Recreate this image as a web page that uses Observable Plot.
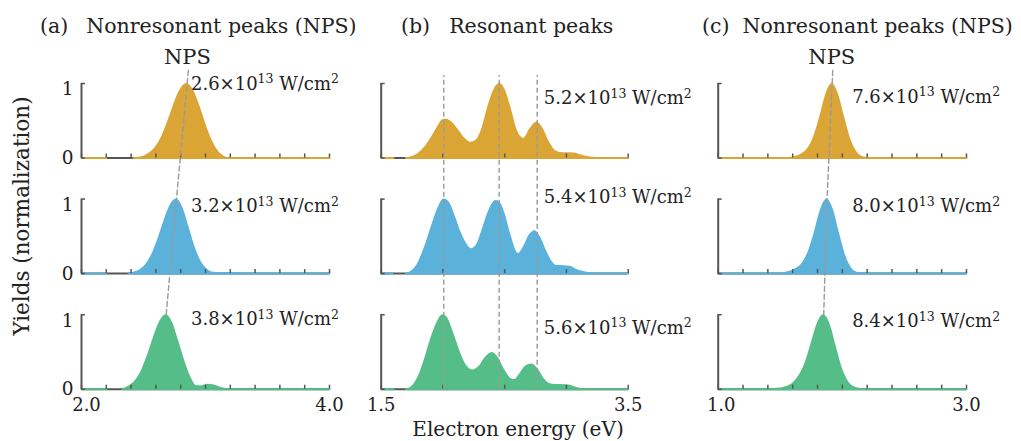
<!DOCTYPE html>
<html><head><meta charset="utf-8">
<script src="https://cdn.jsdelivr.net/npm/d3@7"></script>
<script src="https://cdn.jsdelivr.net/npm/@observablehq/plot@0.6"></script>
<style>
body{margin:0;background:#fff;}
#fig{position:relative;width:1021px;height:441px;overflow:hidden;font-family:"DejaVu Serif",serif;color:#222;}
#fig svg{position:absolute;left:0;top:0;}
.lbl{position:absolute;white-space:pre;line-height:1;font-size:20.5px;}
.lbl span.tag{display:inline-block;}
</style></head><body><div id="fig"></div>
<script>
// ---------------- data ----------------
// (a) Nonresonant peaks, energies 2.0–4.0 eV
const energyA1 = [2.0, 2.2, 2.3, 2.42, 2.45, 2.5, 2.55, 2.6, 2.65, 2.7, 2.75, 2.8, 2.85, 2.9, 2.95, 3.0, 3.05, 3.1, 3.15, 3.2, 4.0];
const yieldA1  = [0, 0, null, 0, 0.008, 0.025, 0.07, 0.155, 0.3, 0.51, 0.745, 0.93, 1, 0.92, 0.72, 0.47, 0.25, 0.10, 0.025, 0, 0];
const energyA2 = [2.0, 2.2, 2.3, 2.38, 2.415, 2.465, 2.515, 2.565, 2.615, 2.665, 2.715, 2.765, 2.815, 2.865, 2.915, 2.965, 3.015, 3.065, 3.12, 3.2, 3.28, 3.35, 4.0];
const yieldA2  = [0, 0, null, 0, 0.014, 0.044, 0.114, 0.249, 0.458, 0.707, 0.917, 1, 0.893, 0.635, 0.36, 0.163, 0.059, 0.017, 0.012, 0.015, 0.008, 0, 0];
const energyA3 = [2.0, 2.2, 2.28, 2.33, 2.383, 2.433, 2.483, 2.533, 2.583, 2.633, 2.683, 2.733, 2.783, 2.833, 2.883, 2.93, 2.97, 3.02, 3.07, 3.12, 3.17, 3.22, 4.0];
const yieldA3  = [0, 0, null, 0, 0.044, 0.114, 0.249, 0.458, 0.707, 0.917, 1, 0.90, 0.65, 0.38, 0.16, 0.045, 0.048, 0.068, 0.055, 0.025, 0.008, 0, 0];
// (b) Resonant peaks, energies 1.5–3.5 eV
const energyB1 = [1.5, 1.6, 1.65, 1.7, 1.75, 1.8, 1.85, 1.9, 1.95, 2.0, 2.03, 2.08, 2.13, 2.18, 2.225, 2.27, 2.32, 2.37, 2.42, 2.46, 2.5, 2.55, 2.6, 2.655, 2.7, 2.76, 2.81, 2.86, 2.91, 2.95, 3.0, 3.06, 3.12, 3.18, 3.25, 3.32, 3.5];
const yieldB1  = [0, 0, null, 0, 0.02, 0.06, 0.14, 0.26, 0.40, 0.515, 0.52, 0.47, 0.37, 0.26, 0.21, 0.24, 0.42, 0.72, 0.94, 1, 0.93, 0.68, 0.38, 0.265, 0.38, 0.48, 0.40, 0.22, 0.10, 0.075, 0.072, 0.068, 0.04, 0.015, 0.005, 0, 0];
const energyB2 = [1.5, 1.59, 1.65, 1.7, 1.75, 1.8, 1.85, 1.9, 1.95, 2.01, 2.05, 2.1, 2.15, 2.2, 2.23, 2.27, 2.32, 2.37, 2.43, 2.46, 2.5, 2.55, 2.61, 2.65, 2.7, 2.745, 2.79, 2.84, 2.89, 2.925, 2.98, 3.03, 3.08, 3.13, 3.2, 3.28, 3.5];
const yieldB2  = [0, 0, null, 0, 0.04, 0.15, 0.35, 0.6, 0.84, 1, 0.96, 0.77, 0.54, 0.38, 0.335, 0.38, 0.6, 0.84, 0.98, 0.96, 0.82, 0.52, 0.27, 0.35, 0.52, 0.576, 0.49, 0.3, 0.15, 0.107, 0.105, 0.1, 0.06, 0.03, 0.01, 0, 0];
const energyB3 = [1.5, 1.6, 1.65, 1.7, 1.75, 1.8, 1.85, 1.9, 1.95, 2.0, 2.04, 2.09, 2.14, 2.19, 2.24, 2.29, 2.34, 2.40, 2.45, 2.5, 2.55, 2.58, 2.62, 2.67, 2.72, 2.77, 2.82, 2.86, 2.89, 2.95, 3.02, 3.07, 3.13, 3.2, 3.3, 3.5];
const yieldB3  = [0, 0, null, 0, 0.04, 0.17, 0.4, 0.67, 0.89, 1, 0.95, 0.74, 0.5, 0.32, 0.258, 0.3, 0.42, 0.493, 0.42, 0.26, 0.145, 0.129, 0.2, 0.31, 0.338, 0.27, 0.14, 0.08, 0.067, 0.062, 0.055, 0.03, 0.01, 0.004, 0, 0];
// (c) Nonresonant peaks, energies 1.0–3.0 eV
const energyC1 = [1.0, 1.5, 1.568, 1.618, 1.668, 1.718, 1.768, 1.818, 1.868, 1.918, 1.968, 2.018, 2.068, 2.118, 2.168, 2.22, 3.0];
const yieldC1  = [0, 0, 0.006, 0.02, 0.05, 0.12, 0.28, 0.55, 0.86, 1, 0.86, 0.55, 0.25, 0.08, 0.015, 0, 0];
const energyC2 = [1.0, 1.4, 1.477, 1.527, 1.577, 1.627, 1.677, 1.727, 1.777, 1.827, 1.877, 1.927, 1.977, 2.027, 2.077, 2.127, 2.18, 3.0];
const yieldC2  = [0, 0, 0.005, 0.012, 0.03, 0.07, 0.14, 0.3, 0.57, 0.87, 1, 0.86, 0.54, 0.24, 0.07, 0.015, 0, 0];
const energyC3 = [1.0, 1.3, 1.38, 1.45, 1.5, 1.55, 1.6, 1.65, 1.7, 1.75, 1.8, 1.85, 1.9, 1.95, 2.0, 2.05, 2.1, 2.15, 2.2, 2.26, 3.0];
const yieldC3  = [0, 0, 0.002, 0.007, 0.015, 0.035, 0.08, 0.18, 0.35, 0.62, 0.89, 1, 0.88, 0.58, 0.28, 0.1, 0.03, 0.01, 0.004, 0, 0];

// peak positions marked by dashed lines
const npsPeaksA = [2.852, 2.766, 2.683];
const resonantPeaksB = [2.007, 2.455, 2.763];
const npsPeaksC = [1.918, 1.877, 1.85];

// laser intensities (×10^13 W/cm^2)
const intensityA = [2.6, 3.2, 3.8];
const intensityB = [5.2, 5.4, 5.6];
const intensityC = [7.6, 8.0, 8.4];

// axis ticks
const ticksA = [2.0, 2.2, 2.4, 2.6, 2.8, 3.0, 3.2, 3.4, 3.6, 3.8, 4.0];
const ticksB = [1.5, 2.0, 2.5, 3.0, 3.5];
const ticksC = [1.0, 1.2, 1.4, 1.6, 1.8, 2.0, 2.2, 2.4, 2.6, 2.8, 3.0];
const tickLabelsA = [2.0, 4.0];
const tickLabelsB = [1.5, 3.5];
const tickLabelsC = [1.0, 3.0];
const yTickValues = [0, 1];

// ---------------- layout ----------------
const W = 1021, H = 441;
const G = 1.552;                 // vertical distance between stacked rows (in yield units)
const rowOffsets = [2 * G, G, 0];
const yRange = [388.7, 83];
const colors = ["#DBA535", "#5AB2DA", "#55BE88"];
const axisColor = "#555";
const dashColor = "#9a9a9a";

function superscriptify(svg) {
  svg.querySelectorAll("text").forEach(t => {
    const m = t.textContent.match(/^(.*×10)(13)( W\/cm)(2)$/);
    if (!m) return;
    t.textContent = "";
    const ns = "http://www.w3.org/2000/svg";
    const parts = [[m[1], null, null], [m[2], "12.5px", "-6.5"], [m[3], null, "6.5"], [m[4], "12.5px", "-6.5"]];
    for (const [s, fs, dy] of parts) {
      const sp = document.createElementNS(ns, "tspan");
      sp.textContent = s;
      if (fs) sp.setAttribute("font-size", fs);
      if (dy) sp.setAttribute("dy", dy);
      t.appendChild(sp);
    }
  });
}

function column(cfg) {
  const {domain, range, curves, ticks, tickLabels, intensity, ann, yLabels, npsPeaks, resPeaks, xLabelDx} = cfg;
  const pxX = (range[1] - range[0]) / (domain[1] - domain[0]);
  const pxY = (yRange[0] - yRange[1]) / (2 * G + 1);
  const top = 2 * G + 1;
  const marks = [];
  // x axis lines (under data)
  marks.push(Plot.ruleY(rowOffsets, {y: d => d, x1: domain[0], x2: domain[1], stroke: axisColor, strokeWidth: 2}));
  curves.forEach(([xs, ys], r) => {
    const off = rowOffsets[r];
    const data = xs.map((x, i) => ({x, v: ys[i], y0: off, y: ys[i] == null ? NaN : ys[i] + off}));
    marks.push(Plot.areaY(data, {x: "x", y1: "y0", y2: "y", fill: colors[r], curve: "monotone-x"}));
    const base = data.filter(p => p.v === null || p.v === 0);
    marks.push(Plot.lineY(base, {x: "x", y: "y", stroke: colors[r], strokeWidth: 2}));
  });
  // x ticks
  const tk = rowOffsets.flatMap(off => ticks.map(t => ({t, off})));
  marks.push(Plot.ruleX(tk, {x: "t", y1: "off", y2: d => d.off + 4 / pxY, stroke: axisColor, strokeWidth: 1.5}));
  // y axis
  marks.push(Plot.ruleX(rowOffsets, {x: domain[0], y1: d => d, y2: d => d + 1, stroke: axisColor, strokeWidth: 2}));
  const ytk = rowOffsets.flatMap(off => yTickValues.map(v => ({v, off})));
  marks.push(Plot.ruleY(ytk, {y: d => d.off + d.v, x1: domain[0], x2: domain[0] + 4 / pxX, stroke: axisColor, strokeWidth: 1.5}));
  if (yLabels) {
    marks.push(Plot.text(ytk.filter(d => d.v === 1), {x: domain[0], y: d => d.off + d.v, text: d => String(d.v), textAnchor: "end", dx: -8, dy: 6, fontSize: 18.5, fill: "#222"}));
    marks.push(Plot.text(ytk.filter(d => d.v === 0), {x: domain[0], y: d => d.off + d.v, text: d => String(d.v), textAnchor: "end", dx: -8, dy: 0, fontSize: 18.5, fill: "#222"}));
  }
  // bottom tick labels
  marks.push(Plot.text(tickLabels.slice(0, 1), {x: d => d, y: 0, text: d => d.toFixed(1), dy: 16, dx: xLabelDx, fontSize: 18, fill: "#222"}));
  marks.push(Plot.text(tickLabels.slice(1), {x: d => d, y: 0, text: d => d.toFixed(1), dy: 16, dx: 0, fontSize: 18, fill: "#222"}));
  // dashed guide lines
  if (npsPeaks) {
    const ext = 0.175;
    const xTop = npsPeaks[0] + (npsPeaks[0] - npsPeaks[1]) / G * ext;
    const pts = [{x: xTop, y: top + ext}, ...npsPeaks.map((x, r) => ({x, y: rowOffsets[r] + 1}))];
    marks.push(Plot.line(pts, {x: "x", y: "y", stroke: dashColor, strokeWidth: 1.4, strokeDasharray: "5,3"}));
    marks.push(Plot.text([pts[0]], {x: "x", y: "y", text: () => "NPS", dy: -13, dx: -1, fontSize: 21, fill: "#222"}));
  }
  if (resPeaks) {
    marks.push(Plot.ruleX(resPeaks, {x: d => d, y1: 0, y2: top + 0.107, stroke: dashColor, strokeWidth: 1.4, strokeDasharray: "5,3"}));
  }
  // intensity annotations
  marks.push(Plot.text(intensity.map((v, r) => ({v, r})), {
    x: ann.x, y: d => rowOffsets[d.r] + ann.y[d.r],
    text: d => `${d.v.toFixed(1)}×1013 W/cm2`,
    textAnchor: "start", fontSize: 18, fill: "#222"
  }));
  const svg = Plot.plot({
    width: W, height: H, margin: 0,
    x: {domain, range, axis: null},
    y: {domain: [0, top], range: yRange, axis: null},
    style: {background: "transparent", fontFamily: "DejaVu Serif, serif", overflow: "visible"},
    marks
  });
  superscriptify(svg);
  return svg;
}

const fig = document.getElementById("fig");
fig.appendChild(column({
  domain: [2, 4], range: [81, 329],
  curves: [[energyA1, yieldA1], [energyA2, yieldA2], [energyA3, yieldA3]],
  ticks: ticksA, tickLabels: tickLabelsA, intensity: intensityA,
  ann: {x: 2.883, y: [0.993, 0.90, 0.935]}, yLabels: true, npsPeaks: npsPeaksA,
  xLabelDx: 5
}));
fig.appendChild(column({
  domain: [1.5, 3.5], range: [380.7, 627.7],
  curves: [[energyB1, yieldB1], [energyB2, yieldB2], [energyB3, yieldB3]],
  ticks: ticksB, tickLabels: tickLabelsB, intensity: intensityB,
  ann: {x: 2.817, y: [0.80, 1.02, 0.82]}, resPeaks: resonantPeaksB,
  xLabelDx: 0
}));
fig.appendChild(column({
  domain: [1, 3], range: [717.7, 966],
  curves: [[energyC1, yieldC1], [energyC2, yieldC2], [energyC3, yieldC3]],
  ticks: ticksC, tickLabels: tickLabelsC, intensity: intensityC,
  ann: {x: 2.079, y: [0.82, 0.90, 0.91]}, npsPeaks: npsPeaksC,
  xLabelDx: 3
}));

// figure-level text
function label(html, css) {
  const d = document.createElement("div");
  d.className = "lbl";
  d.innerHTML = html;
  Object.assign(d.style, css);
  fig.appendChild(d);
  return d;
}
label('<span class="tag" style="margin-right:18px">(a)</span>Nonresonant peaks (NPS)', {left: "40px", top: "16px"});
label('<span class="tag" style="margin-right:19px">(b)</span>Resonant peaks', {left: "401px", top: "16px"});
label('<span class="tag" style="margin-right:13px">(c)</span>Nonresonant peaks (NPS)', {left: "702px", top: "16px"});
label('Electron energy (eV)', {left: "518px", top: "419px", transform: "translateX(-50%)", fontSize: "20px"});
label('Yields (normalization)', {left: "22px", top: "216px", transform: "translate(-50%,-50%) rotate(-90deg)", fontSize: "21.5px"});
</script></body></html>
